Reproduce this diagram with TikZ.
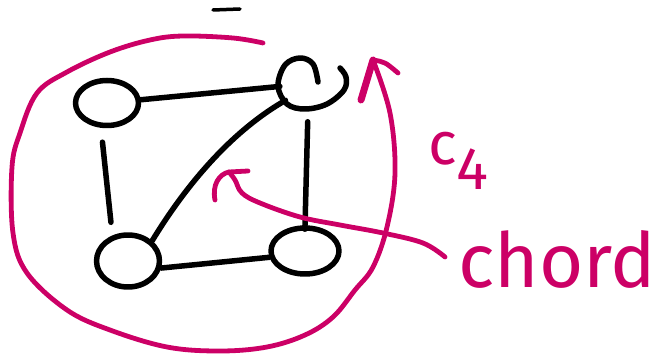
\documentclass[tikz,border=0pt]{standalone}
\usepackage{fontspec}
\setmainfont{Fira Sans}
\usetikzlibrary{shapes.geometric}
\definecolor{mag}{RGB}{204,0,102}
\begin{document}
\begin{tikzpicture}[x=1pt,y=-1pt,line cap=round,line join=round,
  vtx/.style={ellipse,draw=black,line width=5.5pt,inner sep=0pt},
  ink/.style={line width=5.5pt,draw=black},
  pen/.style={line width=4.8pt,draw=mag},
  lbl/.style={text=mag,anchor=base west,inner sep=0pt}]
\useasboundingbox (0,0) rectangle (655,355);
% vertices
\node[vtx,minimum width=63pt,minimum height=45pt] (tl) at (107,103) {};
\node[vtx,minimum width=63pt,minimum height=52pt] (bl) at (128,261) {};
\node[vtx,minimum width=68pt,minimum height=46pt] (br) at (305,251) {};
\node[vtx,draw=none,minimum width=45pt,minimum height=46pt] (tr) at (305,84) {};
\draw[ink] plot[smooth,tension=0.6] coordinates {(318,82) (313,64) (300,58) (285,65) (278,86) (287,104) (305,109) (327,104) (344,90) (346,77) (340,68)};
% edges
\draw[ink] (tl) -- (tr);
\draw[ink,shorten <=14pt,shorten >=10pt] ([xshift=-6pt]tl.south) -- ([xshift=-16pt]bl.north);
\draw[ink,shorten <=12pt,shorten >=-4pt] ([xshift=3pt]tr.south) -- (br.north);
\draw[ink] (bl.-12) -- (br.190);
\draw[ink] (bl.40) .. controls (180,195) and (225,135) .. (tr.220);
% small dash at top
\coordinate (d1) at (213,10);
\coordinate (d2) at (240,9);
\draw[ink,line width=3.5pt] (d1) -- (d2);
% magenta cycle outline with arrow
\coordinate (ctip) at (373,60);
\draw[pen] plot[smooth,tension=0.6] coordinates {(263,43) (233,38) (183,36) (150,40) (110,52) (67,72) (37,93) (20,133) (12,167) (13,233) (27,273) (67,310) (110,330) (167,347) (220,351) (267,347) (305,335) (333,317) (355,290) (373,267) (387,227) (395,173) (390,113) (373,60)};
\coordinate (ca) at (361,100);
\coordinate (cb) at (398,73);
\draw[pen,line width=7pt] (ctip) -- (ca);
\draw[pen] (ctip) .. controls (385,62) .. (cb);
% chord arrow
\coordinate (htip) at (229,172);
\draw[pen] plot[smooth,tension=0.6] coordinates {(445,257) (423,243) (383,233) (340,225) (300,217) (260,203) (242,193) (235,180) (229,172)};
\coordinate (ha) at (215,200);
\coordinate (hb) at (248,171);
\draw[pen] (ha) .. controls (212,185) and (219,174) .. (htip) -- (hb);
% labels
\node[lbl,font=\fontsize{60}{60}\selectfont] (c4) at (428,165) {c\raisebox{-25pt}{4}};
\node[lbl,font=\fontsize{76}{76}\selectfont] (chord) at (458,287) {chord};
\end{tikzpicture}
\end{document}
